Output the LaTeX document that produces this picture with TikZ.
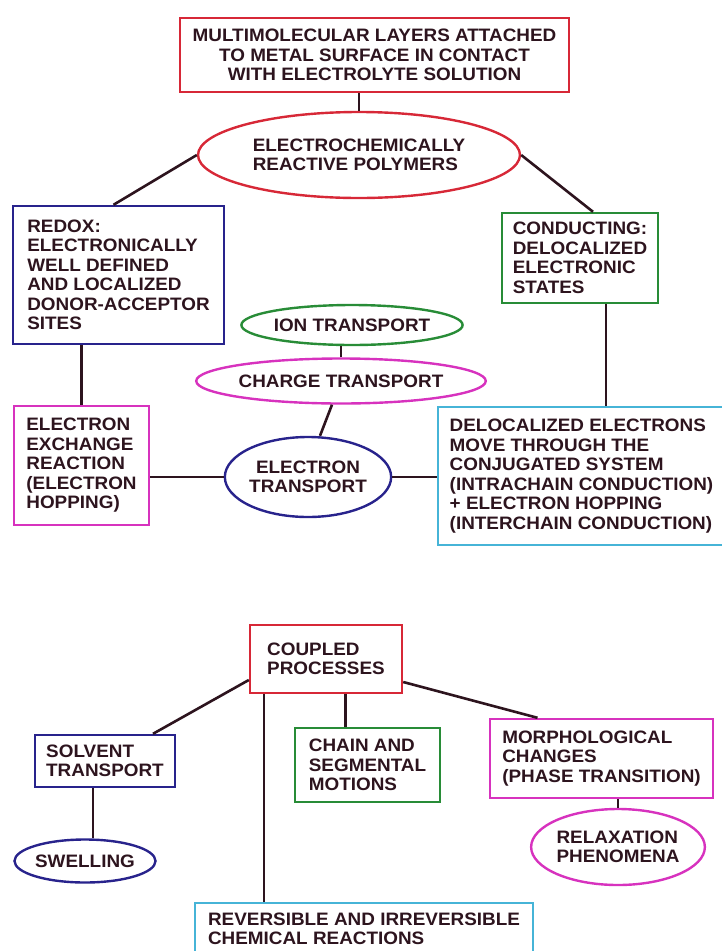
\documentclass[tikz,border=0pt]{standalone}
\usepackage{fontspec}
\setmainfont{Liberation Sans}[FakeStretch=1.05]
\usetikzlibrary{shapes,positioning,calc}

\definecolor{redc}{RGB}{215,40,55}
\definecolor{bluec}{RGB}{40,35,140}
\definecolor{greenc}{RGB}{40,140,55}
\definecolor{magc}{RGB}{215,50,190}
\definecolor{cyanc}{RGB}{70,180,215}
\definecolor{inkc}{RGB}{45,20,30}

\tikzstyle{box}=[rectangle,draw,line width=2.4pt,inner sep=0pt,align=left,text=inkc,font=\fontsize{18}{19.5}\selectfont\bfseries]
\tikzstyle{oval}=[ellipse,draw,line width=2.4pt,inner sep=0pt,align=left,text=inkc,font=\fontsize{18}{19.5}\selectfont\bfseries]
\tikzstyle{link}=[draw,line width=2.6pt,inkc]

\begin{document}
\begin{tikzpicture}[x=1pt,y=-1pt]

  \useasboundingbox (0,0) rectangle (721,951);

  % upper part
  \node[box,draw=redc,align=center,minimum width=389,minimum height=74] (top) at (374.5,55)
     {MULTIMOLECULAR LAYERS ATTACHED\\TO METAL SURFACE IN CONTACT\\WITH ELECTROLYTE SOLUTION};
  \node[oval,draw=redc,minimum width=322,minimum height=86] (erp) at (359,155)
     {ELECTROCHEMICALLY\\REACTIVE POLYMERS};
  \node[box,draw=bluec,minimum width=211,minimum height=138] (redox) at (118.5,275)
     {REDOX:\\ELECTRONICALLY\\WELL DEFINED\\AND LOCALIZED\\DONOR-ACCEPTOR\\SITES};
  \node[box,draw=greenc,minimum width=156,minimum height=90] (cond) at (580,258)
     {CONDUCTING:\\DELOCALIZED\\ELECTRONIC\\STATES};
  \node[oval,draw=greenc,minimum width=211,minimum height=40] (ion) at (352,325) {ION TRANSPORT};
  \node[oval,draw=magc,minimum width=258,minimum height=45] (charge) at (341,381) {CHARGE TRANSPORT};
  \node[oval,draw=bluec,align=center,minimum width=153,minimum height=80] (etrans) at (308,477)
     {ELECTRON\\TRANSPORT};
  \node[box,draw=magc,minimum width=135,minimum height=119] (exch) at (81.5,465.5)
     {ELECTRON\\EXCHANGE\\REACTION\\(ELECTRON\\HOPPING)};
  \node[box,draw=cyanc,minimum width=287,minimum height=138] (deloc) at (581.5,476)
     {DELOCALIZED ELECTRONS\\MOVE THROUGH THE\\CONJUGATED SYSTEM\\(INTRACHAIN CONDUCTION)\\+ ELECTRON HOPPING\\(INTERCHAIN CONDUCTION)};

  % lower part
  \node[box,draw=redc,minimum width=152,minimum height=68] (coupled) at (326,659) {COUPLED\\PROCESSES};
  \node[box,draw=bluec,minimum width=140,minimum height=52] (solvent) at (105,761) {SOLVENT\\TRANSPORT};
  \node[oval,draw=bluec,minimum width=134,minimum height=43] (swell) at (85,861) {SWELLING};
  \node[box,draw=greenc,minimum width=145,minimum height=74] (chain) at (367.5,765)
     {CHAIN AND\\SEGMENTAL\\MOTIONS};
  \node[box,draw=magc,minimum width=223,minimum height=79] (morph) at (601.5,758.5)
     {MORPHOLOGICAL\\CHANGES\\(PHASE TRANSITION)};
  \node[oval,draw=magc,minimum width=173,minimum height=76] (relax) at (618,847)
     {RELAXATION\\PHENOMENA};
  \node[box,draw=cyanc,minimum width=338,minimum height=52] (rev) at (364,929)
     {REVERSIBLE AND IRREVERSIBLE\\CHEMICAL REACTIONS};

  \foreach \source/ \dest in {erp.north/top.south, exch.north/redox.south, charge.north/ion.south,
                              relax.north/morph.south}
     \draw[link] (\source) -- (\source |- \dest);
  \foreach \source/ \dest in {etrans.west/exch.east, etrans.east/deloc.west}
     \draw[link] (\source) -- (\source -| \dest);

  \draw[link] (erp.west) -- ([xshift=-5]redox.north);
  \draw[link] (erp.east) -- ([xshift=13]cond.north);
  \draw[link] ([xshift=26]cond.south) -- ([xshift=26]cond.south |- deloc.north);
  \draw[link] ([xshift=-9]charge.south) -- ([xshift=12]etrans.north);

  \draw[link] ([yshift=-21]coupled.west) -- ([xshift=48]solvent.north);
  \draw[link] ([xshift=-12]solvent.south) -- ([xshift=-12]solvent.south |- swell.north);
  \draw[link] ([xshift=-62]coupled.south) -- ([xshift=-62]coupled.south |- rev.north);
  \draw[link] ([xshift=-22]chain.north) -- ([xshift=-22]chain.north |- coupled.south);
  \draw[link] ([yshift=-23]coupled.east) -- ([xshift=-64]morph.north);

\end{tikzpicture}
\end{document}
